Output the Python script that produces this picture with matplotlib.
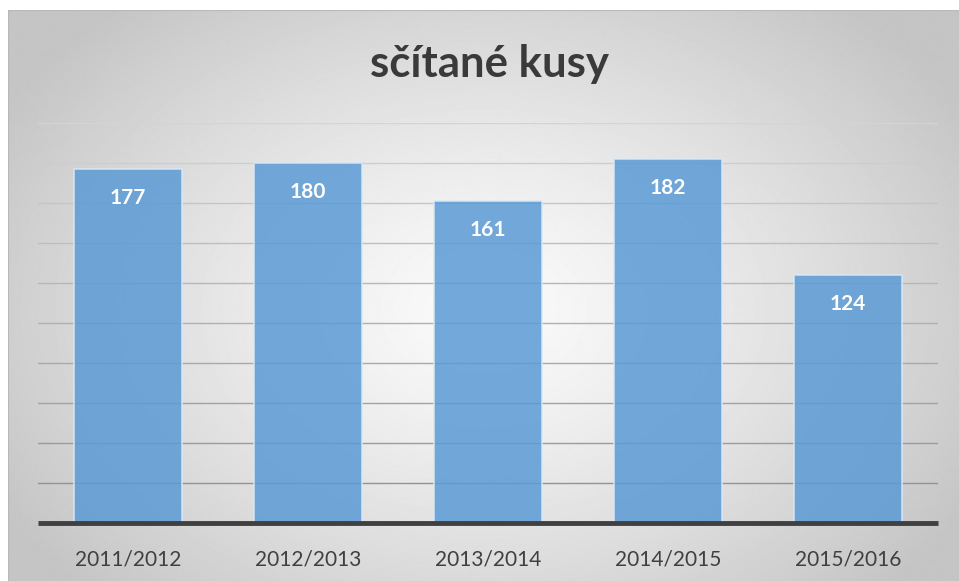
import numpy as np
import matplotlib
matplotlib.use('Agg')
import matplotlib.pyplot as plt

# data
seasons = ['2011/2012', '2012/2013', '2013/2014', '2014/2015', '2015/2016']
counts = [177, 180, 161, 182, 124]
title = 'sčítané kusy'

plt.rcParams['font.family'] = ['Lato', 'DejaVu Sans']

fig = plt.figure(figsize=(9.59, 5.81), dpi=100)
fig.patch.set_facecolor('white')

# radial gradient background in its own axes
bg = fig.add_axes([8 / 959, 0, 1 - 8 / 959, 1 - 10 / 581])
yy, xx = np.mgrid[0:571, 0:951]
cx, cy = 475, 300
r = np.sqrt(((xx - cx) / 560.0) ** 2 + ((yy - cy) / 400.0) ** 2)
r = np.clip(r, 0, 1)
val = 0.98 - 0.21 * r ** 1.3
bg.imshow(val, cmap='gray', vmin=0, vmax=1, aspect='auto', interpolation='bilinear')
bg.set_axis_off()
for x0, y0, x1, y1 in [(0, 0, 951, 0), (0, 0, 0, 571)]:
    bg.plot([x0, x1], [y0, y1], color='#b8b8b8', lw=1.5)
bg.set_xlim(0, 950)
bg.set_ylim(570, 0)

ax = fig.add_axes([38 / 959, 1 - 523 / 581, 900 / 959, 400 / 581])
ax.patch.set_alpha(0)
x = np.arange(len(seasons))

# gridlines, lighter towards the top like the original
for v in range(20, 201, 20):
    shade = 0.55 + 0.28 * (v / 200.0)
    ax.axhline(v, color=str(shade), lw=1, zorder=1)

bars = ax.bar(x, counts, width=0.595, color='#5b9bd5', alpha=0.85,
              edgecolor='#dbe9f6', linewidth=1.2, zorder=2)
for xi, c in zip(x, counts):
    ax.text(xi, c - 14.5, str(c), ha='center', va='center', color='white',
            fontsize=15, fontweight='bold', zorder=3)

ax.axhline(0, color='#404040', lw=3.5, zorder=4, clip_on=False,
           solid_capstyle='butt')
ax.set_xlim(-0.5, 4.5)
ax.set_ylim(0, 200)
ax.set_yticks([])
ax.set_xticks(x)
ax.set_xticklabels(seasons, fontsize=15, color='#404040')
ax.tick_params(axis='x', length=0, pad=19)
for s in ax.spines.values():
    s.set_visible(False)

fig.text(489 / 959, 1 - 64 / 581, title, ha='center', va='center',
         fontsize=31.5, fontweight='bold', color='#3a3a3a')

fig.savefig('out.png', dpi=100)
